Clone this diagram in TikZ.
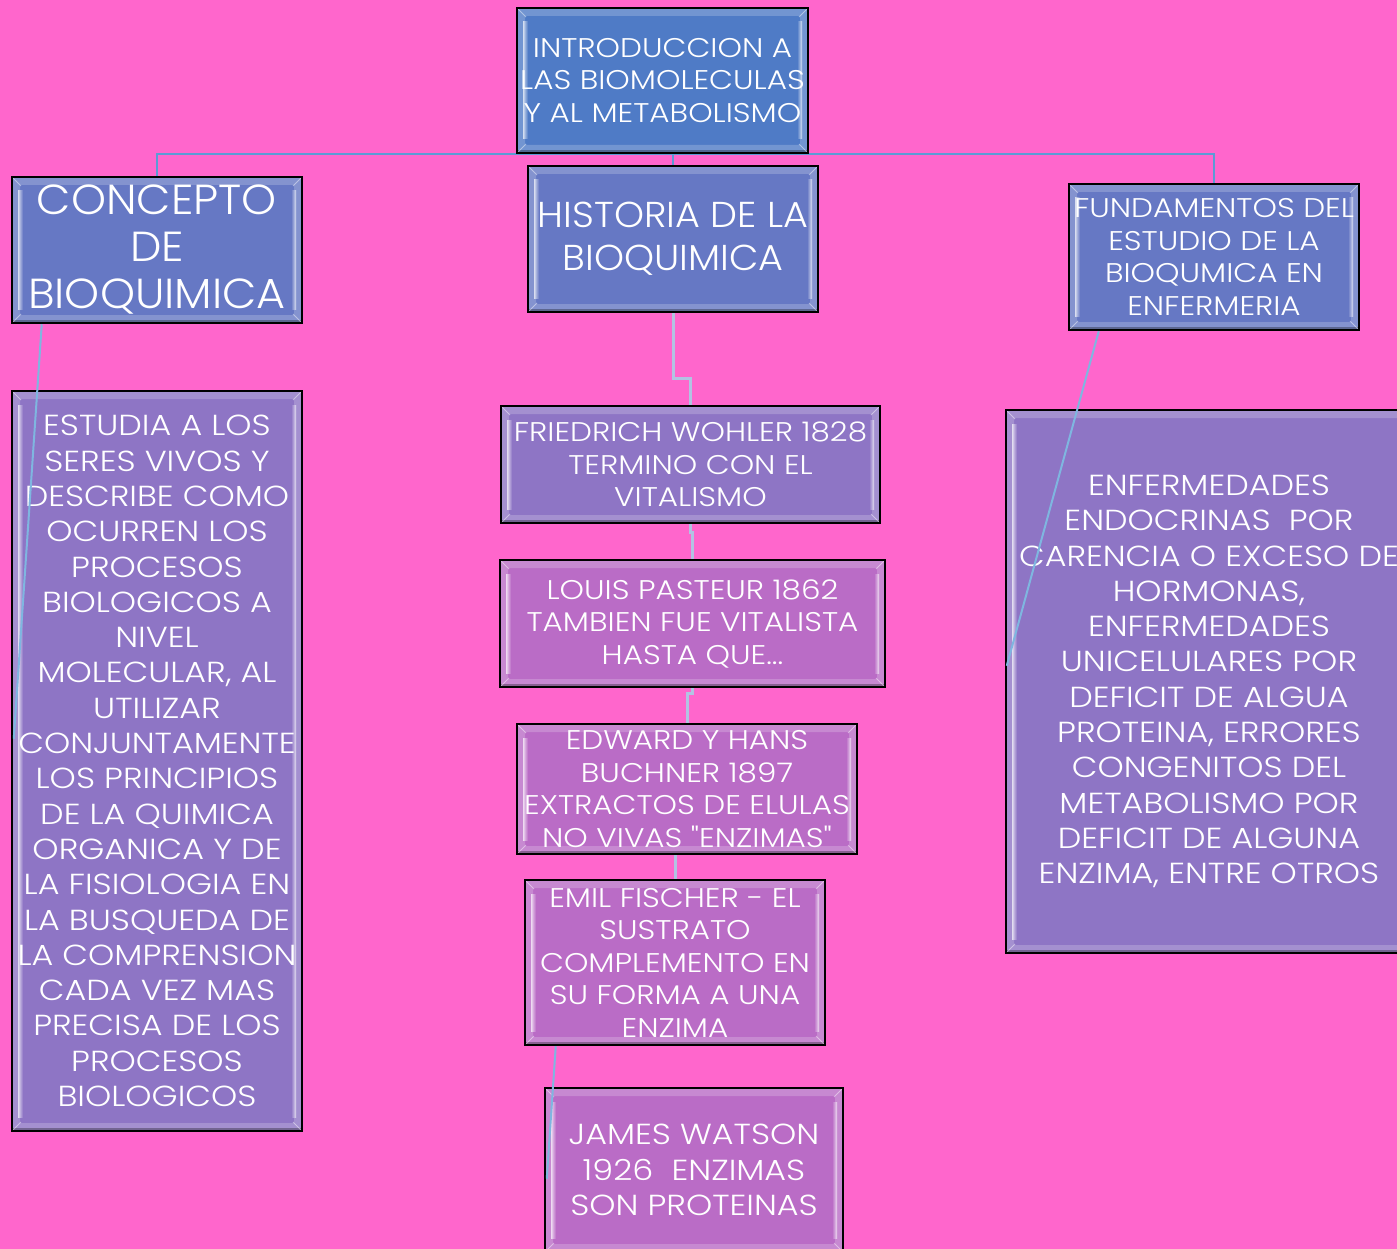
\documentclass[tikz,border=0pt]{standalone}
\usepackage{fontspec}
\setmainfont{Poppins}
\newfontfamily\bodyfont{Poppins}[UprightFont=* Light, FakeStretch=1.15]
\newfontfamily\bigfont{Poppins}[UprightFont=* Light, FakeStretch=1.06]
\usetikzlibrary{calc}
\definecolor{bgpink}{HTML}{FF66CC}
\definecolor{topblue}{HTML}{4F7BC6}
\definecolor{slate}{HTML}{6678C4}
\definecolor{lavender}{HTML}{8E75C5}
\definecolor{orchid}{HTML}{BA6CC6}
\definecolor{linkblue}{HTML}{5B9BD5}
\definecolor{linklight}{HTML}{B2C3E3}
\definecolor{linksky}{HTML}{7FB6E0}
\pgfdeclarelayer{bgl}
\pgfdeclarelayer{background}
\pgfsetlayers{bgl,background,main}
\tikzset{
  bevel/.style={fill=#1, draw=black, line width=2.5pt, text=white, align=center, inner sep=0pt,
    path picture={
      \coordinate (pA) at (path picture bounding box.south west);
      \coordinate (pB) at (path picture bounding box.north east);
      \fill[white,opacity=0.20,even odd rule] (pA) rectangle (pB) ($(pA)+(8pt,8pt)$) rectangle ($(pB)+(-8pt,-8pt)$);
      \fill[black,opacity=0.30] (pA) rectangle ($(pA-|pB)+(0,3pt)$);
      \shade[left color=white!85!#1, right color=#1, opacity=0.85] ($(pA)+(6pt,14pt)$) rectangle ($(pA|-pB)+(11pt,-14pt)$);
      \shade[right color=white!85!#1, left color=#1, opacity=0.85] ($(pB|-pA)+(-11pt,14pt)$) rectangle ($(pB)+(-6pt,-14pt)$);
      \draw[white,opacity=0.45,line width=0.8pt] (pA) -- ++(9pt,9pt) (pA|-pB) -- ++(9pt,-9pt) (pB) -- ++(-9pt,-9pt) (pB|-pA) -- ++(-9pt,9pt);
      \draw[black!60!gray,line width=2.4pt] (pA) rectangle (pB);
    }},
  f28/.style={font=\bodyfont\fontsize{27}{32.5}\selectfont},
  f31/.style={font=\bodyfont\fontsize{29}{35.3}\selectfont},
  topconn/.style={draw=linkblue, line width=2.5pt},
  histconn/.style={draw=linklight, line width=3pt},
  skyconn/.style={draw=linksky, line width=2pt},
}
\begin{document}
\begin{tikzpicture}[x=1pt,y=-1pt]
\begin{pgfonlayer}{bgl}
\fill[bgpink] (0,0) rectangle (1397,1249);
\end{pgfonlayer}
\useasboundingbox (0,0) rectangle (1397,1249);

\node[bevel=topblue, f28, minimum width=291pt, minimum height=145pt] (top) at (662.5,80.5)
  {INTRODUCCION A\\LAS BIOMOLECULAS\\Y AL METABOLISMO};
\node[bevel=slate, font=\bigfont\fontsize{42}{47}\selectfont, minimum width=290pt, minimum height=146pt] (concept) at (157,250)
  {CONCEPTO\\DE\\BIOQUIMICA};
\node[bevel=slate, font=\bigfont\fontsize{36}{43}\selectfont, minimum width=290pt, minimum height=146pt] (hist) at (673,239)
  {HISTORIA DE LA\\BIOQUIMICA};
\node[bevel=slate, f28, minimum width=290pt, minimum height=146pt] (fund) at (1214,257)
  {FUNDAMENTOS DEL\\ESTUDIO DE LA\\BIOQUMICA EN\\ENFERMERIA};
\node[bevel=lavender, f31, minimum width=290pt, minimum height=740pt] (estudia) at (157,761)
  {ESTUDIA A LOS\\SERES VIVOS Y\\DESCRIBE COMO\\OCURREN LOS\\PROCESOS\\BIOLOGICOS A\\NIVEL\\MOLECULAR, AL\\UTILIZAR\\CONJUNTAMENTE\\LOS PRINCIPIOS\\DE LA QUIMICA\\ORGANICA Y DE\\LA FISIOLOGIA EN\\LA BUSQUEDA DE\\LA COMPRENSION\\CADA VEZ MAS\\PRECISA DE LOS\\PROCESOS\\BIOLOGICOS};
\node[bevel=lavender, f28, minimum width=379pt, minimum height=117pt] (fried) at (690.5,464.5)
  {FRIEDRICH WOHLER 1828\\TERMINO CON EL\\VITALISMO};
\node[bevel=orchid, f28, minimum width=385pt, minimum height=127pt] (louis) at (692.5,623.5)
  {LOUIS PASTEUR 1862\\TAMBIEN FUE VITALISTA\\HASTA QUE...};
\node[bevel=orchid, f28, minimum width=340pt, minimum height=130pt] (edward) at (687,789)
  {EDWARD Y HANS\\BUCHNER 1897\\EXTRACTOS DE ELULAS\\NO VIVAS "ENZIMAS"};
\node[bevel=orchid, f28, minimum width=300pt, minimum height=165pt] (emil) at (675,962.5)
  {EMIL FISCHER - EL\\SUSTRATO\\COMPLEMENTO EN\\SU FORMA A UNA\\ENZIMA};
\node[bevel=orchid, f31, minimum width=298pt, minimum height=164pt] (james) at (694,1170)
  {JAMES WATSON\\1926\ \ ENZIMAS\\SON PROTEINAS};
\node[bevel=lavender, f31, minimum width=406pt, minimum height=543pt] (enf) at (1209,681.5)
  {ENFERMEDADES\\ENDOCRINAS\ \ POR\\CARENCIA O EXCESO DE\\HORMONAS,\\ENFERMEDADES\\UNICELULARES POR\\DEFICIT DE ALGUA\\PROTEINA, ERRORES\\CONGENITOS DEL\\METABOLISMO POR\\DEFICIT DE ALGUNA\\ENZIMA, ENTRE OTROS};

\begin{pgfonlayer}{background}
\draw[topconn] (top.south) -| (concept.north);
\draw[topconn] (top.south) -| (fund.north);
\draw[topconn] (top.south -| hist.north) -- (hist.north);
\draw[histconn] (hist.south) -- ++(0,65) -| (fried.north);
\draw[histconn] (fried.south) -- ++(0,8) -| (louis.north);
\draw[histconn] (louis.south) -- ++(0,5) -| (edward.north);
\draw[histconn] (edward.south -| emil.north) -- (emil.north);
\end{pgfonlayer}

\coordinate (estEnd) at ([xshift=3pt,yshift=-349pt]estudia.north west);
\coordinate (enfEnd) at ([xshift=2pt,yshift=-257pt]enf.north west);
\coordinate (jamEnd) at ([xshift=3pt,yshift=-92pt]james.north west);
\draw[skyconn] ([xshift=31pt]concept.south west) -- (estEnd);
\draw[skyconn] ([xshift=31pt]fund.south west) -- (enfEnd);
\draw[skyconn] ([xshift=32pt]emil.south west) -- (jamEnd);
\end{tikzpicture}
\end{document}
